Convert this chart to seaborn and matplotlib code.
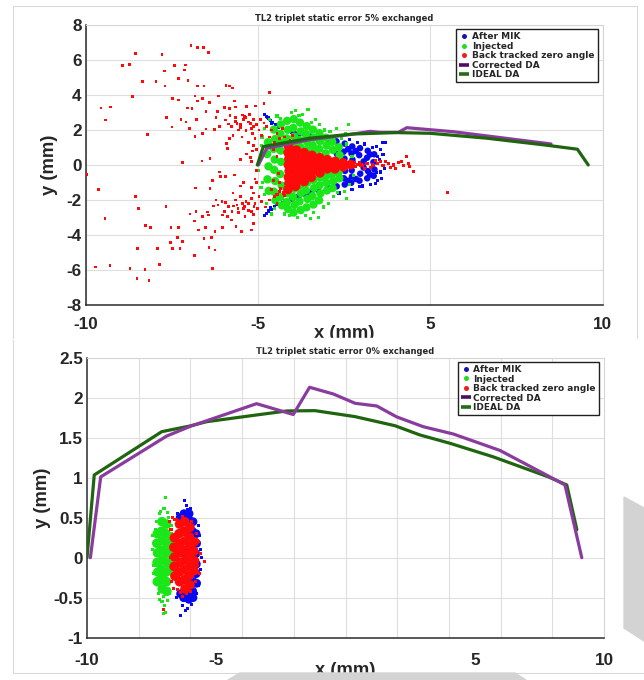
import matplotlib
matplotlib.use('Agg')
import matplotlib.pyplot as plt
import seaborn as sns
from matplotlib.lines import Line2D
from matplotlib.patches import Rectangle, Polygon

# Panneau haut : 5% exchanged
top_title = 'TL2 triplet static error 5% exchanged'
top_xticks = [-10, -10 / 3, 10 / 3, 10]          # graduations régulières dans l'original
top_xticklabels = ['-10', '-5', '5', '10']
top_yticks = [-8, -6, -4, -2, 0, 2, 4, 6, 8]
top_yticklabels = ['-8', '-6', '-4', '-2', '0', '2', '4', '6', '8']

top_ideal_x = [-3.36, -3.13, -1.32, 0.35, 2.03, 3.32, 5.51, 7.77, 9.02, 9.44]
top_ideal_y = [0.00, 1.05, 1.53, 1.77, 1.85, 1.81, 1.53, 1.14, 0.90, 0.00]
top_corr_x = [-3.32, -3.00, -1.32, 0.23, 1.00, 1.40, 2.09, 2.42, 4.22, 8.00]
top_corr_y = [0.00, 0.95, 1.45, 1.74, 1.92, 1.86, 1.86, 2.13, 1.90, 1.20]

top_red_sparse = [
    (-5.93, 6.82), (-5.67, 6.70), (-5.44, 6.70), (-5.24, 6.42), (-8.07, 6.38), (-7.05, 6.29),
    (-8.57, 5.68), (-8.32, 5.73), (-6.57, 5.70), (-6.13, 5.71), (-6.17, 5.43), (-6.42, 4.95),
    (-7.80, 4.76), (-7.28, 4.76), (-6.96, 5.37), (-6.04, 4.84), (-6.93, 4.51), (-5.67, 4.51),
    (-5.42, 4.51), (-4.57, 4.55), (-4.43, 4.51), (-4.32, 4.40), (-8.20, 3.90), (-5.77, 3.94),
    (-6.64, 3.81), (-6.42, 3.71), (-4.87, 3.94), (-4.25, 3.66), (-5.67, 3.66), (-5.48, 3.81),
    (-5.22, 3.56), (-9.41, 3.26), (-9.03, 3.31), (-6.07, 3.26), (-5.89, 3.24), (-5.35, 3.05),
    (-4.90, 3.05), (-4.64, 3.30), (-4.43, 3.24), (-4.21, 3.31), (-3.79, 3.33), (-3.43, 3.37),
    (-3.10, 3.52), (-2.90, 4.13), (-9.23, 2.57), (-6.88, 2.72), (-6.31, 2.61), (-6.12, 2.46),
    (-5.71, 2.61), (-4.96, 2.72), (-4.60, 2.57), (-4.42, 2.84), (-4.20, 2.72), (-3.93, 2.86),
    (-3.81, 2.72), (-6.66, 2.17), (-5.98, 2.09), (-5.35, 2.06), (-5.01, 2.04), (-4.83, 2.19),
    (-4.47, 2.34), (-4.15, 2.38), (-4.01, 2.15), (-3.64, 2.38), (-3.52, 2.19), (-7.60, 1.75),
    (-5.77, 1.62), (-5.48, 1.81), (-4.55, 1.24), (-4.52, 0.93), (-5.19, 0.36), (-5.50, 0.23),
    (-6.27, 0.13), (-3.77, 0.63), (-3.64, 0.44), (-9.98, -0.55), (-4.82, -0.40), (-4.78, -0.67),
    (-4.59, -0.67), (-4.25, -0.57), (-5.09, -0.90), (-5.19, -1.35), (-9.51, -1.39), (-5.74, -1.31),
    (-8.07, -1.81), (-4.96, -2.00), (-4.60, -2.15), (-4.88, -2.29), (-4.73, -2.10), (-4.47, -2.38),
    (-4.29, -2.34), (-4.15, -2.29), (-3.93, -2.19), (-3.71, -2.19), (-6.89, -2.38), (-7.95, -2.48),
    (-5.73, -2.67), (-5.29, -2.69), (-5.05, -2.34), (-4.62, -2.67), (-4.34, -2.67), (-4.11, -2.48),
    (-3.85, -2.38), (-9.25, -3.07), (-5.97, -2.80), (-5.80, -3.20), (-5.48, -2.95), (-5.26, -2.86),
    (-4.71, -2.86), (-4.53, -2.95), (-4.35, -3.14), (-3.84, -2.95), (-3.59, -2.67), (-3.49, -2.38),
    (-7.69, -3.45), (-7.50, -3.58), (-6.70, -3.56), (-6.42, -3.58), (-5.64, -3.71), (-5.36, -3.58),
    (-5.00, -3.81), (-4.70, -3.58), (-4.19, -3.52), (-3.98, -3.81), (-3.59, -3.71), (-3.50, -3.33),
    (-6.44, -4.13), (-6.25, -4.36), (-5.42, -4.19), (-5.13, -4.15), (-6.73, -4.42), (-6.64, -4.78),
    (-6.35, -4.78), (-7.99, -4.76), (-7.22, -4.78), (-5.78, -5.16), (-5.23, -4.72), (-5.00, -4.86),
    (-9.61, -5.83), (-9.06, -5.75), (-8.29, -5.93), (-7.71, -5.96), (-7.16, -5.70), (-5.10, -5.93),
    (-8.02, -6.50), (-7.55, -6.61),
    (-4.20, 2.50), (-4.00, 2.30), (-3.90, 2.60), (-3.70, 2.45), (-3.60, 2.10), (-3.50, 2.60),
    (-4.10, 2.00), (-3.80, 1.95), (-3.55, 1.80), (-4.30, 1.70), (-3.95, 1.60), (-3.45, 1.50),
    (-3.70, 1.30), (-3.50, 1.10), (-4.45, 1.50), (-3.85, 2.75), (-3.65, 2.90), (-4.35, 2.20),
    (-3.40, 2.30), (-3.30, 2.00), (-3.20, 1.70), (-3.10, 2.40), (-3.00, 2.20), (-3.25, 2.60),
    (-2.80, 2.00), (-2.60, 1.80), (-2.50, 1.50), (-2.30, 1.60), (-2.10, 1.40), (-1.90, 1.30),
    (-2.70, 1.30), (-2.90, 1.60), (-2.40, 2.10), (-2.00, 1.70), (-3.40, 0.90), (-3.60, 0.20),
    (-3.40, -0.30), (-3.55, 0.80), (-3.45, -0.80), (-4.00, 0.30), (-3.90, -1.00),
    (-4.20, -2.00), (-4.00, -1.80), (-3.80, -2.10), (-3.60, -1.90), (-3.50, -1.60), (-3.90, -2.50),
    (-3.70, -2.60), (-3.45, -2.20), (-4.30, -1.60), (-3.60, -1.30), (-3.40, -1.00), (-4.10, -2.70),
    (-3.30, -1.80), (-3.20, -2.10), (-3.05, -2.40), (-3.50, -2.85), (-3.35, -2.50), (-4.00, -1.20),
    (-2.80, -1.40), (-2.90, -2.00), (-2.60, -2.20), (-2.75, -0.90), (-2.55, -0.50), (-2.60, 0.50),
    (-2.75, 0.90), (-2.50, -1.00),
]
top_red_fan = [
    (-2.15, 1.05), (-2.17, 0.70), (-2.14, 0.35), (-2.16, 0.00), (-2.13, -0.35), (-2.16, -0.70),
    (-2.14, -1.05), (-2.18, -1.40), (-1.85, 0.85), (-1.87, 0.50), (-1.84, 0.15), (-1.86, -0.20),
    (-1.83, -0.55), (-1.86, -0.90), (-1.88, -1.22), (-1.55, 0.70), (-1.53, 0.38), (-1.56, 0.05),
    (-1.54, -0.28), (-1.57, -0.60), (-1.55, -0.95), (-1.25, 0.55), (-1.23, 0.25), (-1.26, -0.05),
    (-1.24, -0.35), (-1.27, -0.70), (-0.95, 0.42), (-0.93, 0.15), (-0.96, -0.15), (-0.94, -0.45),
    (-0.65, 0.30), (-0.63, 0.05), (-0.66, -0.22), (-0.35, 0.20), (-0.33, -0.03), (-0.36, -0.22),
    (-0.05, 0.12), (-0.03, -0.10), (0.25, 0.02),
]
top_red_tail = [
    (0.50, 0.05), (0.70, -0.03), (0.90, 0.07), (1.10, 0.00), (1.30, 0.10), (1.50, -0.05),
    (1.70, 0.06), (1.90, 0.00), (2.10, 0.12), (2.30, -0.02), (2.50, 0.10), (2.54, -0.10),
    (1.00, -0.12), (1.40, 0.18), (1.80, -0.15), (2.20, 0.20), (2.42, 0.50), (2.67, -0.38),
    (3.98, -1.55), (0.60, 0.15), (0.80, -0.18), (1.20, 0.25), (1.60, 0.20), (2.00, -0.20),
    (-2.50, -1.50), (-2.60, -1.70), (-2.35, -1.60), (-2.45, -1.35), (-2.70, -1.80), (-2.30, -1.75),
    (-2.30, 1.20), (-2.25, 0.90), (0.40, 0.12), (0.45, -0.10), (0.65, 0.00), (0.85, 0.10),
    (1.15, -0.05),
]
top_green_core = [
    (-2.95, 1.30), (-2.98, 0.62), (-2.93, -0.08), (-2.97, -0.82), (-2.92, -1.48),
    (-2.72, 2.02), (-2.68, 1.48), (-2.73, 0.92), (-2.69, 0.31), (-2.71, -0.28), (-2.67, -0.92),
    (-2.72, -1.52), (-2.66, -2.02), (-2.45, 2.32), (-2.47, 1.78), (-2.43, 1.28), (-2.46, 0.82),
    (-2.44, 0.18), (-2.48, -0.52), (-2.42, -1.18), (-2.47, -1.83), (-2.41, -2.31),
    (-2.21, 2.52), (-2.18, 2.01), (-2.23, 1.52), (-2.19, -1.62), (-2.22, -2.12), (-2.17, -2.52),
    (-1.95, 2.62), (-1.97, 2.12), (-1.93, 1.62), (-1.96, 1.18), (-1.94, -1.36), (-1.98, -1.82),
    (-1.92, -2.28), (-1.96, -2.72), (-1.71, 2.42), (-1.68, 1.92), (-1.72, 1.42), (-1.69, 1.02),
    (-1.70, -1.16), (-1.67, -1.62), (-1.73, -2.08), (-1.68, -2.58), (-1.45, 2.22), (-1.47, 1.76),
    (-1.43, 1.31), (-1.46, 0.86), (-1.44, -1.02), (-1.48, -1.46), (-1.42, -1.94), (-1.46, -2.42),
    (-1.21, 2.02), (-1.18, 1.56), (-1.22, 1.12), (-1.19, 0.72), (-1.20, -0.86), (-1.17, -1.32),
    (-1.23, -1.78), (-1.19, -2.26), (-0.96, 1.82), (-0.94, 1.36), (-0.97, 0.92), (-0.93, -0.72),
    (-0.96, -1.16), (-0.92, -1.62), (-0.97, -2.02), (-0.71, 1.56), (-0.68, 1.12), (-0.72, 0.66),
    (-0.69, -0.62), (-0.70, -1.02), (-0.67, -1.46), (-0.46, 1.32), (-0.44, 0.86), (-0.47, -0.52),
    (-0.43, -0.92), (-0.45, -1.32), (-0.21, 1.02), (-0.18, 0.56), (-0.22, -0.42), (-0.19, -0.76),
]
top_green_edge = [
    (-3.25, 0.40), (-3.30, -0.30), (-3.20, 1.10), (-3.15, -1.00), (-3.10, 2.10), (-2.90, 2.60),
    (-2.60, 2.80), (-1.90, 3.10), (-1.40, 3.18), (-1.60, 2.90), (-1.10, 2.60), (-0.94, 2.29),
    (-0.55, 1.90), (0.16, 2.32), (-0.10, 1.50), (0.10, 1.20), (0.20, -1.10), (0.00, -1.50),
    (-0.40, -1.80), (-0.80, -2.40), (-1.20, -2.70), (-1.50, -2.90), (-1.00, -3.00), (-1.80, -3.00),
    (-2.30, -2.80), (-2.70, -2.50), (-3.00, -2.20), (-3.10, -1.70), (0.30, 0.50), (0.35, -0.60),
    (-2.05, 3.00), (-0.30, 2.10), (0.05, 1.80), (-0.60, -2.20), (-2.80, -2.80), (-1.30, -3.05),
    (-3.18, 1.60), (-3.22, -1.30), (-0.25, -1.55), (0.10, -1.90), (-0.75, 2.00), (-1.25, 2.45),
    (-2.45, 2.65), (-1.75, 2.85), (-2.10, -2.90),
]
top_blue_core = [
    (-0.30, 1.35), (-0.28, 0.62), (-0.32, -0.20), (-0.29, -1.22), (0.02, 1.22), (-0.02, 0.76),
    (0.01, 0.36), (0.03, -0.34), (-0.01, -0.76), (0.02, -1.12), (0.31, 1.06), (0.28, 0.66),
    (0.32, 0.30), (0.29, -0.30), (0.30, -0.66), (0.27, -1.02), (0.61, 0.96), (0.58, 0.56),
    (0.62, -0.50), (0.59, -0.90), (0.91, 0.81), (0.88, 0.41), (0.92, -0.35), (0.89, -0.76),
    (1.16, 0.61), (1.13, 0.16), (1.17, -0.26), (1.14, -0.62), (-1.00, 1.52), (-1.02, -1.42),
    (-1.50, 1.72), (-1.48, -1.72), (-2.00, 1.92), (-2.02, -1.92), (-0.60, 1.45), (-0.62, -1.30),
    (-1.30, 1.62), (-1.28, -1.58), (-1.75, 1.80), (-1.78, -1.82),
    (0.45, 0.80), (0.45, -0.80), (0.75, 0.20), (0.75, -0.15), (1.00, 0.60), (1.00, -0.55),
    (0.15, 0.90), (0.15, -0.90),
]
top_blue_edge = [
    (-3.10, 2.90), (-3.02, 2.78), (-2.93, 2.64), (-2.85, 2.55), (-2.76, 2.44), (-2.66, 2.33),
    (-2.52, 2.22), (-2.38, 2.12), (-2.22, 2.02), (-2.08, 1.94), (-1.92, 1.84), (-1.78, 1.74),
    (-2.80, 2.38), (-2.55, 2.16), (-2.25, 1.96), (-2.95, 2.72), (-3.10, -2.90), (-3.02, -2.78),
    (-2.92, -2.63), (-2.82, -2.52), (-2.68, -2.38), (-2.53, -2.24), (-2.38, -2.12), (-2.22, -2.02),
    (-2.07, -1.92), (-1.92, -1.82), (-1.78, -1.72), (-2.85, -2.45), (-2.60, -2.28), (-2.30, -2.05),
    (1.26, 1.06), (1.58, 1.29), (1.40, 0.90), (1.47, 1.28), (1.30, -0.90), (1.20, -1.05),
    (1.00, -1.10), (1.35, 0.30), (1.40, -0.40), (0.80, 1.20), (0.50, 1.30), (0.20, 1.45),
    (-0.10, 1.60), (0.60, -1.25), (0.30, -1.40), (-0.20, -1.60), (1.50, 0.60), (1.55, -0.20),
    (1.10, 1.00), (0.70, -1.20), (1.45, -0.75), (1.25, -0.45), (1.30, 0.50),
]

# Panneau bas : 0% exchanged
bot_title = 'TL2 triplet static error 0% exchanged'
bot_xlabel_pos = [-10, -5, 5, 10]
bot_xticklabels = ['-10', '-5', '5', '10']
bot_xgrid = [-8, -6, -4, -2, 0, 2, 4, 6, 8]
bot_yticks = [-1, -0.5, 0, 0.5, 1, 1.5, 2, 2.5]
bot_yticklabels = ['-1', '-0.5', '0', '0.5', '1', '1.5', '2', '2.5']

bot_ideal_x = [-10.0, -9.72, -7.11, -6.02, -5.37, -3.44, -2.27, -1.18, 0.37, 1.91, 2.88,
               4.04, 5.72, 7.85, 8.56, 8.95]
bot_ideal_y = [0.0, 1.034, 1.575, 1.646, 1.70, 1.784, 1.834, 1.838, 1.763, 1.65, 1.534,
               1.43, 1.26, 1.01, 0.909, 0.35]
bot_corr_x = [-9.87, -9.47, -6.92, -6.02, -3.44, -2.02, -1.39, -0.47, 0.37, 1.21, 1.98,
              3.01, 4.17, 5.98, 7.91, 8.49, 9.14]
bot_corr_y = [0.0, 1.01, 1.52, 1.64, 1.925, 1.79, 2.13, 2.046, 1.93, 1.896, 1.76,
              1.637, 1.546, 1.34, 1.01, 0.909, 0.0]

bot_green_core = [
    (-7.28, 0.30), (-7.30, 0.18), (-7.27, 0.06), (-7.29, -0.06), (-7.26, -0.18), (-7.28, -0.30),
    (-7.10, 0.45), (-7.12, 0.33), (-7.09, 0.21), (-7.11, 0.09), (-7.08, -0.03), (-7.12, -0.15),
    (-7.10, -0.27), (-7.09, -0.39), (-6.92, 0.42), (-6.94, 0.30), (-6.91, 0.18), (-6.93, 0.06),
    (-6.90, -0.06), (-6.94, -0.18), (-6.92, -0.30), (-6.91, -0.42), (-6.78, 0.20), (-6.80, 0.08),
    (-6.77, -0.04), (-6.79, -0.16),
]
bot_green_edge = [
    (-7.40, 0.20), (-7.42, -0.10), (-7.38, 0.05), (-7.35, -0.30), (-7.36, 0.35), (-6.70, 0.10),
    (-6.68, -0.20), (-6.72, 0.30), (-7.02, 0.62), (-6.98, 0.755), (-7.10, -0.55), (-7.00, -0.60),
    (-6.90, -0.53), (-7.20, 0.55), (-6.95, -0.68), (-7.25, -0.45), (-7.48, 0.28), (-7.15, 0.58),
    (-6.85, 0.50), (-6.80, -0.45), (-7.05, -0.48), (-6.90, 0.57), (-7.30, 0.45), (-7.44, -0.20),
    (-7.04, -0.70), (-7.18, -0.52), (-6.75, 0.40), (-7.45, 0.10),
]
bot_red_core = [
    (-6.62, 0.25), (-6.64, 0.13), (-6.61, 0.01), (-6.63, -0.11), (-6.60, -0.23),
    (-6.42, 0.42), (-6.44, 0.30), (-6.41, 0.18), (-6.43, 0.06), (-6.40, -0.06), (-6.44, -0.18),
    (-6.42, -0.30), (-6.22, 0.45), (-6.24, 0.33), (-6.21, 0.21), (-6.23, 0.09), (-6.20, -0.03),
    (-6.24, -0.15), (-6.22, -0.27), (-6.21, -0.39), (-6.02, 0.38), (-6.04, 0.26), (-6.01, 0.14),
    (-6.03, 0.02), (-6.00, -0.10), (-6.04, -0.22), (-6.02, -0.34), (-5.85, 0.20), (-5.87, 0.08),
    (-5.84, -0.04), (-5.86, -0.16),
]
bot_red_edge = [
    (-6.75, 0.35), (-6.78, 0.00), (-6.72, -0.30), (-6.55, 0.48), (-6.50, -0.40), (-6.30, 0.52),
    (-6.15, -0.45), (-5.95, 0.45), (-5.75, 0.10), (-5.72, -0.10), (-5.80, -0.30), (-5.78, 0.30),
    (-5.47, -0.05), (-7.05, -0.65), (-6.60, 0.48), (-6.00, -0.42), (-6.40, -0.44), (-5.70, 0.20),
    (-5.65, -0.20), (-6.80, 0.45), (-6.70, 0.50), (-6.65, -0.38), (-6.30, -0.48), (-5.60, 0.05),
]
bot_blue_core = [
    (-6.05, 0.55), (-6.07, 0.48), (-6.04, -0.45), (-6.06, -0.52), (-5.90, 0.45), (-5.92, 0.33),
    (-5.89, -0.30), (-5.91, -0.42), (-5.90, -0.50), (-5.78, 0.30), (-5.76, 0.18), (-5.79, 0.05),
    (-5.77, -0.08), (-5.78, -0.20), (-5.76, -0.32), (-6.25, 0.55), (-6.26, -0.50), (-6.40, 0.50),
    (-6.38, -0.45), (-6.15, 0.00), (-6.30, 0.10),
]
bot_blue_edge = [
    (-6.24, 0.72), (-6.40, -0.72), (-5.62, 0.10), (-5.60, -0.15), (-5.65, 0.28), (-5.68, -0.35),
    (-6.15, 0.65), (-6.00, 0.62), (-6.30, -0.60), (-6.10, -0.63), (-5.95, -0.58), (-6.50, 0.55),
    (-6.55, -0.50), (-5.70, 0.40), (-5.75, -0.45), (-6.20, -0.66), (-5.58, 0.00), (-6.12, 0.60),
]

legend_labels = ['After MIK', 'Injected', 'Back tracked zero angle', 'Corrected DA', 'IDEAL DA']

# Couleurs
BLUE, GREEN, RED = '#0a0af2', '#1ae61a', '#ff0a0a'
PURPLE_LINE, GREEN_LINE = '#8a3c9e', '#1f650f'
PURPLE_LEG, GREEN_LEG = '#4b1062', '#246c16'
GRID = '#dedede'
TICK_FONT = dict(fontfamily='Liberation Sans', fontweight='bold', fontsize=12.3)
LABEL_FONT = dict(fontfamily='Liberation Sans', fontweight='bold', fontsize=13.2)

FW, FH = 644, 680


def fx(px):
    return px / FW


def fy(py):
    return 1 - py / FH


def draw_cloud(ax, pts, color, size, z, marker='s'):
    xs = [p[0] for p in pts]
    ys = [p[1] for p in pts]
    sns.scatterplot(x=xs, y=ys, ax=ax, color=color, s=size, marker=marker,
                    linewidth=0, edgecolor='none', legend=False, zorder=z)


def draw_da(ax, xs, ys, color, z):
    sns.lineplot(x=xs, y=ys, ax=ax, sort=False, estimator=None,
                 color=color, linewidth=2.3, zorder=z)


def style_axes(ax, title):
    ax.set_facecolor('white')
    for s in ('left', 'bottom'):
        ax.spines[s].set_color('#2b2b2b')
        ax.spines[s].set_linewidth(1.1)
    for s in ('top', 'right'):
        ax.spines[s].set_color('#d6d6d6')
        ax.spines[s].set_linewidth(0.8)
    ax.set_axisbelow(True)
    ax.tick_params(which='both', direction='in', length=3.6, width=0.9,
                   color='#2b2b2b', top=False, right=False)
    ax.set_title(title, fontsize=6.0, fontweight='bold', fontfamily='DejaVu Sans', pad=3)


def add_legend(ax):
    handles = [
        Line2D([0], [0], ls='', marker='o', ms=3.6, mfc='#1414b4', mec='none'),
        Line2D([0], [0], ls='', marker='o', ms=3.6, mfc='#22dd22', mec='none'),
        Line2D([0], [0], ls='', marker='o', ms=3.6, mfc='#f01c1c', mec='none'),
        Line2D([0], [0], color=PURPLE_LEG, lw=2.6, solid_capstyle='butt'),
        Line2D([0], [0], color=GREEN_LEG, lw=2.6, solid_capstyle='butt'),
    ]
    leg = ax.legend(handles, legend_labels, loc='upper right', bbox_to_anchor=(0.9903, 0.9846),
                    borderaxespad=0, prop={'family': 'DejaVu Sans', 'weight': 'bold', 'size': 6.5},
                    frameon=True, fancybox=False, framealpha=1, edgecolor='#202020',
                    handlelength=1.1, handletextpad=0.3, borderpad=0.35, labelspacing=0.05)
    leg.get_frame().set_linewidth(1.0)
    leg.set_zorder(10)


sns.set_theme(style='white')
plt.rcParams['font.family'] = ['DejaVu Sans']
plt.rcParams['axes.unicode_minus'] = False

fig = plt.figure(figsize=(6.44, 6.80), dpi=100)
ax_top = fig.add_axes([0.1331, 0.5515, 0.8028, 0.4118])
ax_bot = fig.add_axes([0.1351, 0.0622, 0.8028, 0.4118])

# ---- panneau haut
style_axes(ax_top, top_title)
draw_cloud(ax_top, top_blue_core, BLUE, 22, 2, 'o')
draw_cloud(ax_top, top_blue_edge, BLUE, 5, 2)
draw_cloud(ax_top, top_green_core, GREEN, 36, 3, 'o')
draw_cloud(ax_top, top_green_edge, GREEN, 5, 3)
draw_cloud(ax_top, top_red_sparse, RED, 4, 4)
draw_cloud(ax_top, top_red_fan, RED, 48, 4, 'o')
draw_cloud(ax_top, top_red_tail, RED, 5, 4)
draw_da(ax_top, top_corr_x, top_corr_y, PURPLE_LINE, 5)
draw_da(ax_top, top_ideal_x, top_ideal_y, GREEN_LINE, 6)
ax_top.set_xlim(-10, 10)
ax_top.set_ylim(-8, 8)
ax_top.set_xticks(top_xticks)
ax_top.set_xticklabels(top_xticklabels, **TICK_FONT)
ax_top.set_yticks(top_yticks)
ax_top.set_yticklabels(top_yticklabels, **TICK_FONT)
ax_top.grid(True, color=GRID, lw=0.8)
ax_top.tick_params(axis='x', pad=8.9)
ax_top.tick_params(axis='y', pad=2.9)
ax_top.set_xlabel('x (mm)', **LABEL_FONT)
ax_top.set_ylabel('y (mm)', **LABEL_FONT)
ax_top.xaxis.set_label_coords(0.5, -0.071)
ax_top.yaxis.set_label_coords(-0.054, 0.5)
add_legend(ax_top)

# ---- panneau bas
style_axes(ax_bot, bot_title)
draw_cloud(ax_bot, bot_blue_core, BLUE, 40, 2, 'o')
draw_cloud(ax_bot, bot_blue_edge, BLUE, 5, 2)
draw_cloud(ax_bot, bot_green_core, GREEN, 48, 3, 'o')
draw_cloud(ax_bot, bot_green_edge, GREEN, 5, 3)
draw_cloud(ax_bot, bot_red_core, RED, 48, 4, 'o')
draw_cloud(ax_bot, bot_red_edge, RED, 5, 4)
draw_da(ax_bot, bot_ideal_x, bot_ideal_y, GREEN_LINE, 5)
draw_da(ax_bot, bot_corr_x, bot_corr_y, PURPLE_LINE, 6)
ax_bot.set_xlim(-10, 10)
ax_bot.set_ylim(-1, 2.5)
ax_bot.set_xticks(bot_xlabel_pos)
ax_bot.set_xticklabels(bot_xticklabels, **TICK_FONT)
ax_bot.set_xticks(bot_xgrid, minor=True)
ax_bot.set_yticks(bot_yticks)
ax_bot.set_yticklabels(bot_yticklabels, **TICK_FONT)
ax_bot.tick_params(axis='x', which='major', length=0, pad=11.2)
ax_bot.tick_params(axis='y', pad=2.9)
ax_bot.grid(True, which='minor', axis='x', color=GRID, lw=0.8)
ax_bot.grid(True, which='major', axis='y', color=GRID, lw=0.8)
ax_bot.grid(False, which='major', axis='x')
ax_bot.set_xlabel('x (mm)', **LABEL_FONT)
ax_bot.set_ylabel('y (mm)', **LABEL_FONT)
ax_bot.xaxis.set_label_coords(0.5, -0.086)
ax_bot.yaxis.set_label_coords(-0.0706, 0.5)
add_legend(ax_bot)

# ---- cadres des deux captures et zones grisées
fig.add_artist(Rectangle((0, fy(346)), 1, 8 / FH, transform=fig.transFigure,
                         color='white', zorder=1))
fig.add_artist(Rectangle((0, 0), 1, 7 / FH, transform=fig.transFigure,
                         color='white', zorder=1))
frame_kw = dict(transform=fig.transFigure, color='#d9d9d9', lw=0.8, zorder=2)
fig.add_artist(Line2D([fx(13), fx(13), fx(637), fx(637)], [fy(338), fy(6), fy(6), fy(338)], **frame_kw))
fig.add_artist(Line2D([fx(13), fx(13), fx(644)], [fy(340), fy(673), fy(673)], **frame_kw))
fig.add_artist(Polygon([(fx(228), fy(680)), (fx(240), fy(673)), (fx(515), fy(673)), (fx(526), fy(680))],
                       closed=True, transform=fig.transFigure, color='#d3d3d3', zorder=2))
fig.add_artist(Polygon([(fx(624), fy(497)), (fx(644), fy(508)), (fx(644), fy(641)), (fx(624), fy(628))],
                       closed=True, transform=fig.transFigure, color='#d3d3d3', zorder=2))

fig.savefig('out.png', dpi=100)
